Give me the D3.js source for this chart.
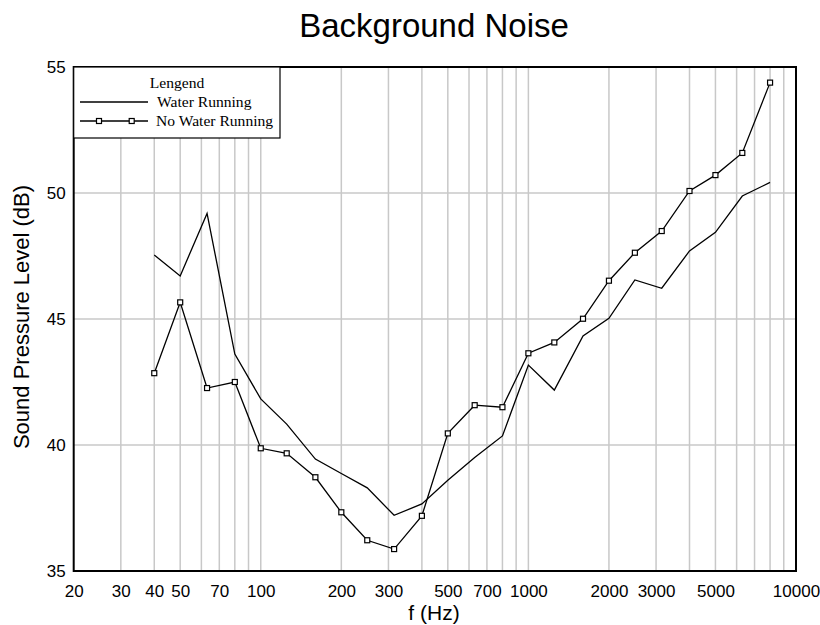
<!DOCTYPE html>
<html><head><meta charset="utf-8">
<script src="https://cdn.jsdelivr.net/npm/d3@7"></script>
<style>body{margin:0;background:#fff}</style>
</head><body>
<svg id="c" width="820" height="625"></svg>
<script>
const freqs = [40,50,63,80,100,125,160,200,250,315,400,500,630,800,1000,1250,1600,2000,2500,3150,4000,5000,6300,8000];
const waterRunning = [47.54,46.71,49.19,43.61,41.83,40.83,39.44,38.87,38.3,37.21,37.66,38.6,39.5,40.36,43.17,42.18,44.33,45.03,46.55,46.22,47.70,48.44,49.88,50.42];
const noWaterRunning = [42.85,45.66,42.26,42.50,39.87,39.67,38.72,37.33,36.22,35.87,37.19,40.46,41.58,41.50,43.64,44.07,45.01,46.52,47.63,48.49,50.08,50.71,51.59,54.38];
const xTickLabels = [20,30,40,50,70,100,200,300,500,700,1000,2000,3000,5000,10000];
const xGrid = [30,40,50,60,70,80,90,100,200,300,400,500,600,700,800,900,1000,2000,3000,4000,5000,6000,7000,8000,9000];
const yTicks = [35,40,45,50,55];
const yGrid = [40,45,50];

const svg = d3.select("#c");
const L = 73.7, R = 796, T = 67, B = 571;
const x = d3.scaleLog().domain([20,10000]).range([L,R]);
const y = d3.scaleLinear().domain([35,55]).range([B,T]);
const sans = "Liberation Sans, Arial, sans-serif";
const serif = "Liberation Serif, Times New Roman, serif";

// grid
svg.append("g").selectAll("line").data(xGrid).join("line")
  .attr("x1",d=>x(d)).attr("x2",d=>x(d)).attr("y1",T).attr("y2",B)
  .attr("stroke","#c8c8c8").attr("stroke-width",1.5);
svg.append("g").selectAll("line").data(yGrid).join("line")
  .attr("x1",L).attr("x2",R).attr("y1",d=>y(d)).attr("y2",d=>y(d))
  .attr("stroke","#c8c8c8").attr("stroke-width",1.5);

// axes labels
const xa = d3.axisBottom(x).tickValues(xTickLabels).tickFormat(d3.format("d")).tickSize(0).tickPadding(14);
svg.append("g").attr("transform",`translate(0,${B})`).call(xa)
  .call(g=>g.select(".domain").remove())
  .selectAll("text").attr("font-family",sans).attr("font-size",17).attr("fill","#000");
const ya = d3.axisLeft(y).tickValues(yTicks).tickSize(0).tickPadding(8);
svg.append("g").attr("transform",`translate(${L},0)`).call(ya)
  .call(g=>g.select(".domain").remove())
  .selectAll("text").attr("font-family",sans).attr("font-size",17).attr("fill","#000");

// frame
svg.append("rect").attr("x",L).attr("y",T).attr("width",R-L).attr("height",B-T)
  .attr("fill","none").attr("stroke","#000").attr("stroke-width",2);

// lines
const line = d3.line().x(d=>x(d[0])).y(d=>y(d[1]));
const s1 = freqs.map((f,i)=>[f,waterRunning[i]]);
const s2 = freqs.map((f,i)=>[f,noWaterRunning[i]]);
svg.append("path").datum(s1).attr("d",line).attr("fill","none").attr("stroke","#000").attr("stroke-width",1.3);
svg.append("path").datum(s2).attr("d",line).attr("fill","none").attr("stroke","#000").attr("stroke-width",1.3);
svg.append("g").selectAll("rect").data(s2).join("rect")
  .attr("x",d=>x(d[0])-2.5).attr("y",d=>y(d[1])-2.5).attr("width",5).attr("height",5)
  .attr("fill","#fff").attr("stroke","#000").attr("stroke-width",1.2);

// legend
const lg = svg.append("g");
lg.append("rect").attr("x",L).attr("y",T).attr("width",280-L).attr("height",138-T)
  .attr("fill","#fff").attr("stroke","#000").attr("stroke-width",1.2);
lg.append("text").attr("x",177).attr("y",88).attr("text-anchor","middle").attr("font-family",serif).attr("font-size",15.6).text("Lengend");
lg.append("line").attr("x1",80).attr("x2",148).attr("y1",102).attr("y2",102).attr("stroke","#000").attr("stroke-width",1.3);
lg.append("text").attr("x",157).attr("y",107).attr("font-family",serif).attr("font-size",15.6).text("Water Running");
lg.append("line").attr("x1",80).attr("x2",148).attr("y1",121).attr("y2",121).attr("stroke","#000").attr("stroke-width",1.3);
lg.selectAll("rect.m").data([99,131.7]).join("rect").attr("class","m")
  .attr("x",d=>d-2.5).attr("y",121-2.5).attr("width",5).attr("height",5)
  .attr("fill","#fff").attr("stroke","#000").attr("stroke-width",1.2);
lg.append("text").attr("x",156).attr("y",126).attr("font-family",serif).attr("font-size",15.6).text("No Water Running");

// titles
svg.append("text").attr("x",434).attr("y",37).attr("text-anchor","middle").attr("font-family",sans).attr("font-size",33).text("Background Noise");
svg.append("text").attr("x",434).attr("y",620).attr("text-anchor","middle").attr("font-family",sans).attr("font-size",21).text("f (Hz)");
svg.append("text").attr("transform",`translate(29,317) rotate(-90)`).attr("text-anchor","middle").attr("font-family",sans).attr("font-size",22).text("Sound Pressure Level (dB)");
</script>
</body></html>
